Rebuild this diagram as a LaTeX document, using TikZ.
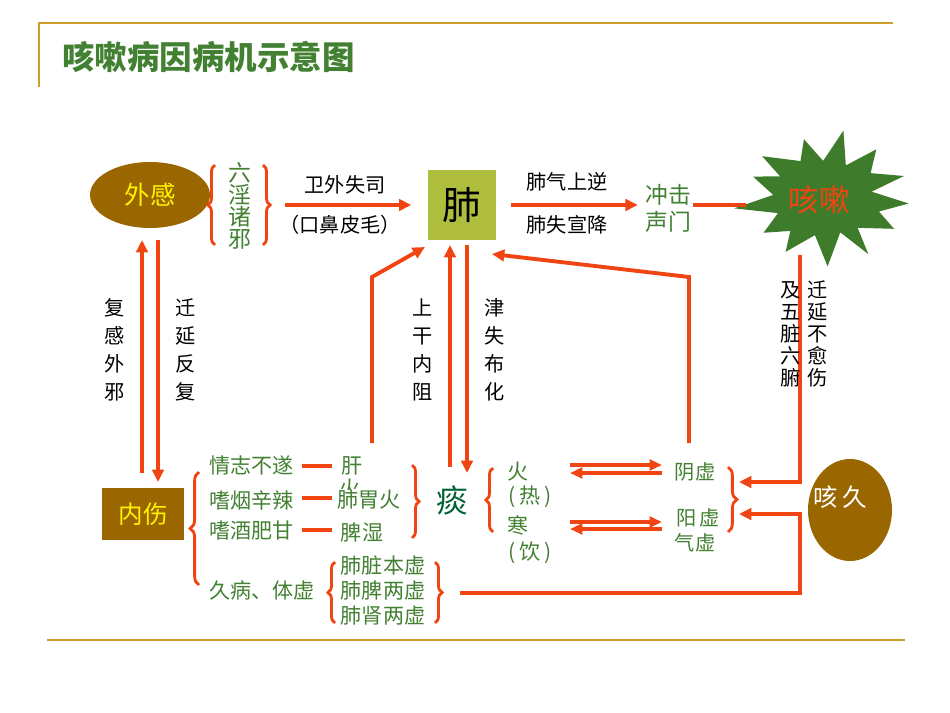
\documentclass[tikz,border=0pt]{standalone}
\usepackage{fontspec}
\setmainfont{Noto Sans CJK SC}
\usetikzlibrary{arrows.meta,positioning,decorations.pathreplacing,shapes.geometric}
\definecolor{hong}{RGB}{240,68,18}
\definecolor{lv}{RGB}{66,128,50}
\definecolor{shenlv}{RGB}{0,98,52}
\definecolor{xinglv}{RGB}{62,124,44}
\definecolor{zong}{RGB}{153,102,0}
\definecolor{ganlan}{RGB}{176,190,62}
\definecolor{jin}{RGB}{204,160,40}
\tikzset{
  xian/.style={draw=hong,line width=2.2pt},
  jian/.style={xian,-{Triangle[length=7pt,width=6.5pt]}},
  xijian/.style={draw=hong,line width=1.8pt,-{Triangle[length=7pt,width=6pt]}},
  kuo/.style={draw=hong,line width=1.6pt,decorate,decoration={brace,amplitude=#1}},
  kuo/.default=4pt,
  lvzi/.style={text=lv,font=\fontsize{12}{14}\selectfont,inner sep=1pt},
  heizi/.style={font=\fontsize{11.5}{16}\selectfont,align=center,inner sep=1pt},
  shuzi/.style={heizi,font=\fontsize{11.5}{12.5}\selectfont},
}

\begin{document}
\begin{tikzpicture}[x=0.02cm,y=-0.02cm]
  \useasboundingbox (0,0) rectangle (950,713);
  \draw[jin,line width=1.5pt] (39,87) -- (39,23) -- (893,23);
  \draw[jin,line width=1.5pt] (47,640) -- (905,640);
  \node[anchor=west,text=lv,font=\fontsize{18.5}{20}\selectfont\bfseries] (biaoti) at (56,57) {咳嗽病因病机示意图};

  % top row
  \node[ellipse,fill=zong,minimum width=2.4cm,minimum height=1.32cm,text=yellow,font=\fontsize{14.5}{16}\selectfont] (waigan) at (150,195) {外感};
  \draw[kuo] (215,245) -- (215,165);
  \node[lvzi,align=center,font=\fontsize{13}{12.5}\selectfont] (liuyin) at (240,206) {六\\淫\\诸\\邪};
  \draw[kuo] (263,165) -- (263,245);
  \coordinate (liuyinr) at (285,205);
  \node[fill=ganlan,minimum width=1.38cm,minimum height=1.4cm,font=\fontsize{22}{24}\selectfont] (fei) at (462,205) {肺};
  \draw[jian,shorten >=9pt] (liuyinr) -- (fei.west);
  \node[heizi] (weiwai) at (345,185) {卫外失司};
  \node[heizi] (koubi) at (340,225) {（口鼻皮毛）};
  \node[lvzi,align=center,font=\fontsize{13}{15.3}\selectfont] (chongji) at (668,208) {冲击\\声门};
  \draw[jian,shorten <=8pt,shorten >=3pt] (fei.east) -- (fei.east -| chongji.west);
  \node[heizi] (feiqi) at (567,182) {肺气上逆};
  \node[heizi] (shixuan) at (567,225) {肺失宣降};
  \fill[xinglv] plot[samples at={0,...,25},variable=\k]
    ({825+(mod(\k,2)==0 ? 1 : 0.62)*(84+8*sin(\k*97))*cos(\k*360/26+5)},
     {198+(mod(\k,2)==0 ? 1 : 0.62)*(63+6*sin(\k*131))*sin(\k*360/26+5)}) -- cycle;
  \node[text=hong,font=\fontsize{17.5}{19}\selectfont] (kesou) at (819,200) {咳嗽};
  \coordinate (xingzuo) at (746,205);
  \draw[xian] (xingzuo -| chongji.east) -- (xingzuo);

  % waigan <-> neishang
  \node[fill=zong,text=yellow,minimum width=1.66cm,minimum height=1.04cm,font=\fontsize{14}{16}\selectfont] (neishang) at (143,514) {内伤};
  \draw[jian] (142,473) -- (142,240);
  \draw[jian] (158,240) -- (158,482);
  \node[heizi] (fugan) at (115,350) {复\\感\\外\\邪};
  \node[heizi] (qianyan) at (186,350) {迁\\延\\反\\复};

  % neishang items
  \draw[kuo=5pt] (199,585) -- (199,472);
  \node[lvzi,anchor=west] (qingzhi) at (207,465) {情志不遂};
  \node[lvzi,anchor=west] (yan) at (207,500) {嗜烟辛辣};
  \node[lvzi,anchor=west] (jiu) at (207,531) {嗜酒肥甘};
  \node[lvzi,anchor=west] (jiubing) at (207,590) {久病、体虚};
  \node[lvzi] (gan) at (352,466) {肝};
  \node[lvzi] (ganhuo) at (350,489) {火};
  \node[lvzi,fill=white,inner sep=0pt] (feiwei) at (369,500) {肺胃火};
  \node[lvzi] (pishi) at (362,532) {脾湿};
  \draw[xian] (302,466) -- (332,466);
  \draw[xian] (302,498) -- (332,498);
  \draw[xian] (302,530) -- (332,530);
  \draw[kuo] (412,465) -- (412,538);
  \node[text=shenlv,font=\fontsize{18}{20}\selectfont] (tan) at (452,500) {痰};

  \draw[kuo] (335,623) -- (335,562);
  \node[lvzi] (zangxu) at (383,565) {肺脏本虚};
  \node[lvzi] (pixu) at (383,590) {肺脾两虚};
  \node[lvzi] (shenxu) at (383,615) {肺肾两虚};
  \draw[kuo] (435,562) -- (435,623);

  % fei <-> tan
  \draw[jian] (450,467) -- (450,245);
  \draw[jian] (467,245) -- (467,473);
  \node[heizi] (shanggan) at (423,350) {上\\干\\内\\阻};
  \node[heizi] (jinshi) at (495,350) {津\\失\\布\\化};
  \draw[jian] (372,443) -- (372,277) -- (425,247);

  % huo / han
  \draw[kuo] (493,532) -- (493,468);
  \node[lvzi] (huo) at (518,472) {火};
  \node[lvzi] (re) at (530,497) {(\,热\,)};
  \node[lvzi] (han) at (518,525) {寒};
  \node[lvzi] (yin) at (530,553) {(\,饮\,)};
  \node[lvzi,font=\fontsize{11.5}{13}\selectfont] (yinxu) at (695,472) {阴虚};
  \node[lvzi,font=\fontsize{11.5}{13}\selectfont] (yangxu) at (698,518) {阳\,虚};
  \node[lvzi,font=\fontsize{11.5}{13}\selectfont] (qixu) at (695,543) {气虚};
  \draw[xijian] (570,465) -- (662,465);
  \draw[xijian] (662,473) -- (570,473);
  \draw[xijian] (570,522) -- (662,522);
  \draw[xijian] (662,529) -- (570,529);
  \draw[kuo=5pt] (728,467) -- (728,532);
  \coordinate (xukuo1) at (739,482);
  \coordinate (xukuo2) at (739,514);
  \draw[jian] (689,443) -- (689,277) -- (492,254);

  % kesou / kejiu
  \draw[jian] (800,255) |- (xukuo1);
  \node[shuzi] (jiwu) at (791,334) {及\\五\\脏\\六\\腑};
  \node[shuzi] (buyu) at (818,334) {迁\\延\\不\\愈\\伤};
  \draw[jian] (460,593) -| (800,514) -- (xukuo2);
  \node[ellipse,fill=zong,minimum width=1.68cm,minimum height=2.04cm] (kejiu) at (850,510) {};
  \node[text=white,font=\fontsize{14}{16}\selectfont] (kejiuzi) at (840,497) {咳\,久};
\end{tikzpicture}
\end{document}
